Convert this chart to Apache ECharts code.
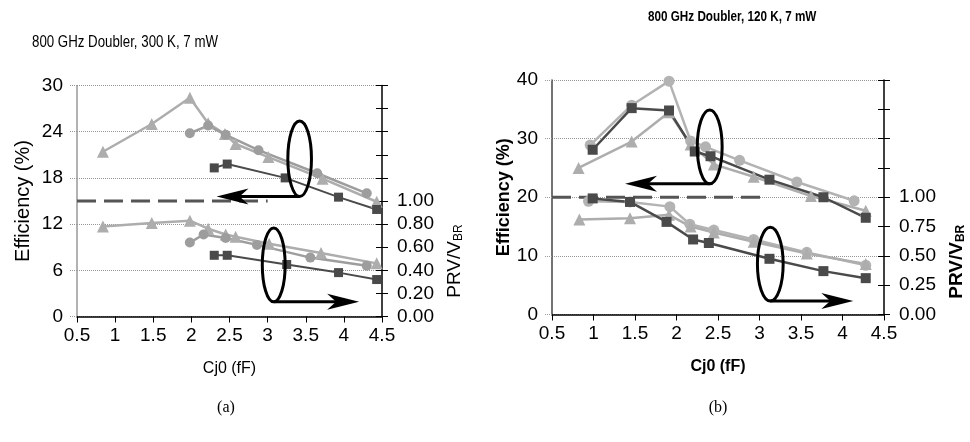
<!DOCTYPE html>
<html><head><meta charset="utf-8">
<script src="https://cdn.jsdelivr.net/npm/echarts@6/dist/echarts.min.js"></script>
<style>html,body{margin:0;padding:0;background:#fff}#c{width:970px;height:442px}</style>
</head><body><div id="c"></div>
<script>
// ---------- DATA ----------
// (a) 300 K : efficiency (%) on left axis, PRV/VBR on right axis; x = Cj0 (fF)
const effA_tri = [[0.84,21.4],[1.48,25.0],[1.98,28.4],[2.22,25.1],[2.44,23.7],[2.58,22.4],[3.01,20.7],[3.72,17.9],[4.43,14.9]];
const effA_cir = [[1.98,23.8],[2.22,24.8],[2.45,23.6],[2.88,21.6],[3.65,18.6],[4.30,16.0]];
const effA_sq  = [[2.30,19.3],[2.47,19.8],[3.23,18.0],[3.93,15.5],[4.43,13.9]];
const prvA_tri = [[0.84,0.78],[1.48,0.81],[1.98,0.83],[2.22,0.76],[2.45,0.71],[2.58,0.69],[3.02,0.63],[3.70,0.55],[4.43,0.46]];
const prvA_cir = [[1.98,0.64],[2.16,0.71],[2.45,0.68],[2.86,0.62],[3.56,0.51],[4.30,0.44]];
const prvA_sq  = [[2.30,0.53],[2.47,0.53],[3.25,0.45],[3.93,0.38],[4.43,0.32]];
// (b) 120 K
const effB_cir = [[0.96,28.9],[1.46,35.7],[1.91,39.8],[2.17,29.6],[2.35,28.6],[2.76,26.3],[3.45,22.6],[4.14,19.4]];
const effB_tri = [[0.82,25.0],[1.46,29.5],[1.91,34.5],[2.17,29.0],[2.45,25.6],[2.93,23.5],[3.62,20.2],[4.28,17.7]];
const effB_sq  = [[0.99,28.1],[1.46,35.2],[1.91,34.8],[2.22,27.8],[2.41,27.0],[3.12,23.0],[3.77,20.0],[4.28,16.5]];
const prvB_cir = [[0.94,0.965],[1.44,0.96],[1.92,0.92],[2.16,0.77],[2.45,0.72],[2.93,0.64],[3.57,0.53],[4.28,0.42]];
const prvB_tri = [[0.83,0.81],[1.44,0.82],[1.91,0.85],[2.17,0.75],[2.45,0.70],[2.93,0.62],[3.57,0.52],[4.28,0.43]];
const prvB_sq  = [[0.99,0.99],[1.44,0.96],[1.88,0.79],[2.20,0.64],[2.39,0.61],[3.12,0.475],[3.77,0.37],[4.28,0.31]];
// PRV/VBR = 1 reference (dashed)
const refA = [[0.5,1.0],[3.0,1.0]];
const refB = [[0.5,1.0],[3.05,1.0]];
// annotation ellipses (data coords: cx, cy, half-width x, half-height y) and arrow tip x
const annA = [{cx:3.42,cy:20.5,hw:0.155,hh:4.9,tip:2.33},{cx:3.08,cy:6.7,hw:0.15,hh:4.8,tip:4.20}];
const annB = [{cx:2.40,cy:28.6,hw:0.15,hh:6.3,tip:1.38},{cx:3.13,cy:8.6,hw:0.155,hh:6.3,tip:4.13}];

const titleA = '800 GHz Doubler, 300 K, 7 mW';
const titleB = '800 GHz Doubler, 120 K, 7 mW';

// ---------- STYLE ----------
const F = 'Liberation Sans, Arial, sans-serif';
const C_TRI = '#adadad', C_CIR = '#9d9d9d', C_SQ = '#4a4a4a';

function ser(data, sym, color, xi, yi, size, lw){
  return {type:'line', data, xAxisIndex:xi, yAxisIndex:yi, symbol:sym, symbolSize:size,
    showSymbol:true, silent:true, animation:false,
    lineStyle:{color:color, width:lw}, itemStyle:{color:color, borderColor:color, borderWidth:0}, z:3};
}
function refSer(data, xi, yi){
  return {type:'line', data, xAxisIndex:xi, yAxisIndex:yi, symbol:'none', silent:true, animation:false,
    lineStyle:{color:'#555', width:3, type:[19,8]}, z:2};
}
const xAx = (gi, bold) => ({type:'value', gridIndex:gi, min:0.5, max:4.5, interval:0.5,
  name:'Cj0 (fF)', nameLocation:'middle', nameGap:44,
  nameTextStyle:{fontFamily:F, fontSize:16, fontWeight: bold?'bold':'normal', color:'#000'},
  axisLine:{onZero:false, lineStyle:{color:'#000', width:1.5}},
  axisTick:{length:6, lineStyle:{color:'#000'}},
  axisLabel:{fontFamily:F, fontSize:19, color:'#000', margin:10},
  splitLine:{show:false}});
const yLeft = (gi, max, itv, bold, gap, lineColor) => ({type:'value', gridIndex:gi, min:0, max:max, interval:itv, position:'left',
  name:'Efficiency (%)', nameLocation:'middle', nameGap:gap,
  nameTextStyle:{fontFamily:F, fontSize:bold?18:20, fontWeight: bold?'bold':'normal', color:'#000'},
  axisLine:{show:true, lineStyle:{color:lineColor, width:1.5}},
  axisTick:{show:true, length:7, lineStyle:{color:'#999', type:'dotted'}},
  axisLabel:{fontFamily:F, fontSize:19, color:'#000', margin:14},
  splitLine:{show:true, lineStyle:{color:'#999', type:'dotted', width:1}}});
const yRight = (gi, itv) => ({type:'value', gridIndex:gi, min:0, max:2, interval:itv, position:'right',
  axisLine:{show:true, lineStyle:{color:'#000', width:1.5}},
  axisTick:{show:true, length:6, lineStyle:{color:'#000'}},
  axisLabel:{fontFamily:F, fontSize:19, color:'#000', margin:15,
    formatter: v => v <= 1.0001 ? v.toFixed(2) : ''},
  splitLine:{show:false}});
const yRightIn = (gi, itv) => ({type:'value', gridIndex:gi, min:0, max:2, interval:itv, position:'right',
  axisLine:{show:false}, axisTick:{show:true, inside:true, length:6, lineStyle:{color:'#000'}},
  axisLabel:{show:false}, splitLine:{show:false}});

const chart = echarts.init(document.getElementById('c'));
const option = {
  backgroundColor:'#fff',
  animation:false,
  grid:[
    {left:77, top:85.5, width:305, height:231},
    {left:552, top:80, width:332, height:234.5}
  ],
  xAxis:[xAx(0,false), xAx(1,true)],
  yAxis:[
    yLeft(0,30,6,false,44,'#999'), yRight(0,0.2), yRightIn(0,0.2),
    yLeft(1,40,10,true,34,'#444'), yRight(1,0.25), yRightIn(1,0.25)
  ],
  series:[
    refSer(refA,0,1),
    ser(effA_tri,'triangle',C_TRI,0,0,12,2.5),
    ser(effA_cir,'circle',C_CIR,0,0,10,2.5),
    ser(effA_sq,'rect',C_SQ,0,0,9,2),
    ser(prvA_tri,'triangle',C_TRI,0,1,12,2.5),
    ser(prvA_cir,'circle',C_CIR,0,1,10,2.5),
    ser(prvA_sq,'rect',C_SQ,0,1,9,2),
    refSer(refB,1,4),
    ser(effB_cir,'circle','#b3b3b3',1,3,11,2.5),
    ser(effB_tri,'triangle',C_TRI,1,3,12,2.5),
    ser(effB_sq,'rect',C_SQ,1,3,10,2.5),
    ser(prvB_cir,'circle','#b3b3b3',1,4,11,2.5),
    ser(prvB_tri,'triangle',C_TRI,1,4,12,2.5),
    ser(prvB_sq,'rect',C_SQ,1,4,10,2.5)
  ]
};
chart.setOption(option);

// ---------- annotations (positioned from data coordinates) ----------
function annGraphics(list, xi, yi){
  const out = [];
  list.forEach(a => {
    const c = chart.convertToPixel({xAxisIndex:xi, yAxisIndex:yi}, [a.cx, a.cy]);
    const e = chart.convertToPixel({xAxisIndex:xi, yAxisIndex:yi}, [a.cx + a.hw, a.cy + a.hh]);
    const t = chart.convertToPixel({xAxisIndex:xi, yAxisIndex:yi}, [a.tip, a.cy]);
    const rx = e[0]-c[0], ry = c[1]-e[1];
    const by = c[1] + ry;              // ellipse bottom
    const tx = t[0];
    const dir = tx < c[0] ? 1 : -1;    // direction back from tip
    const L = 32, W = 8;
    out.push({type:'ellipse', shape:{cx:c[0], cy:c[1], rx:rx, ry:ry}, style:{fill:'none', stroke:'#000', lineWidth:3}, z:10});
    out.push({type:'line', shape:{x1:c[0], y1:by, x2:tx + dir*L*0.7, y2:by}, style:{stroke:'#000', lineWidth:3}, z:10});
    out.push({type:'polygon', shape:{points:[[tx,by],[tx+dir*L,by-W],[tx+dir*L*0.72,by],[tx+dir*L,by+W]]}, style:{fill:'#000'}, z:10});
  });
  return out;
}
function prvLabel(xi, yi, v, bold){
  const p = chart.convertToPixel({xAxisIndex:xi, yAxisIndex:yi}, [4.5, v]);
  return {type:'text', x:p[0]+73, y:p[1], rotation:Math.PI/2, z:10,
    style:{text:'PRV/V{s|BR}', fontFamily:F, fontSize:19, fontWeight: bold?'bold':'normal', fill:'#000',
      align:'center', verticalAlign:'middle',
      rich:{s:{fontFamily:F, fontSize:12, fontWeight: bold?'bold':'normal', fill:'#000', verticalAlign:'bottom', padding:[6,0,0,0]}}}};
}
const g = [].concat(annGraphics(annA,0,0), annGraphics(annB,1,3));
g.push(prvLabel(0,1,0.48,false));
g.push(prvLabel(1,4,0.45,true));
// titles (narrow face imitated with horizontal scale)
g.push({type:'text', x:32, y:43, scaleX:0.83, style:{text:titleA, fontFamily:F, fontSize:16, fill:'#000', align:'left', verticalAlign:'middle'}});
g.push({type:'text', x:648, y:17, scaleX:0.78, style:{text:titleB, fontFamily:F, fontSize:15, fontWeight:'bold', fill:'#000', align:'left', verticalAlign:'middle'}});
g.push({type:'text', x:226, y:408, style:{text:'(a)', fontFamily:'Liberation Serif, Times New Roman, serif', fontSize:16, fill:'#000', align:'center', verticalAlign:'middle'}});
g.push({type:'text', x:718, y:408, style:{text:'(b)', fontFamily:'Liberation Serif, Times New Roman, serif', fontSize:16, fill:'#000', align:'center', verticalAlign:'middle'}});
chart.setOption({graphic:g});
</script>
</body></html>
